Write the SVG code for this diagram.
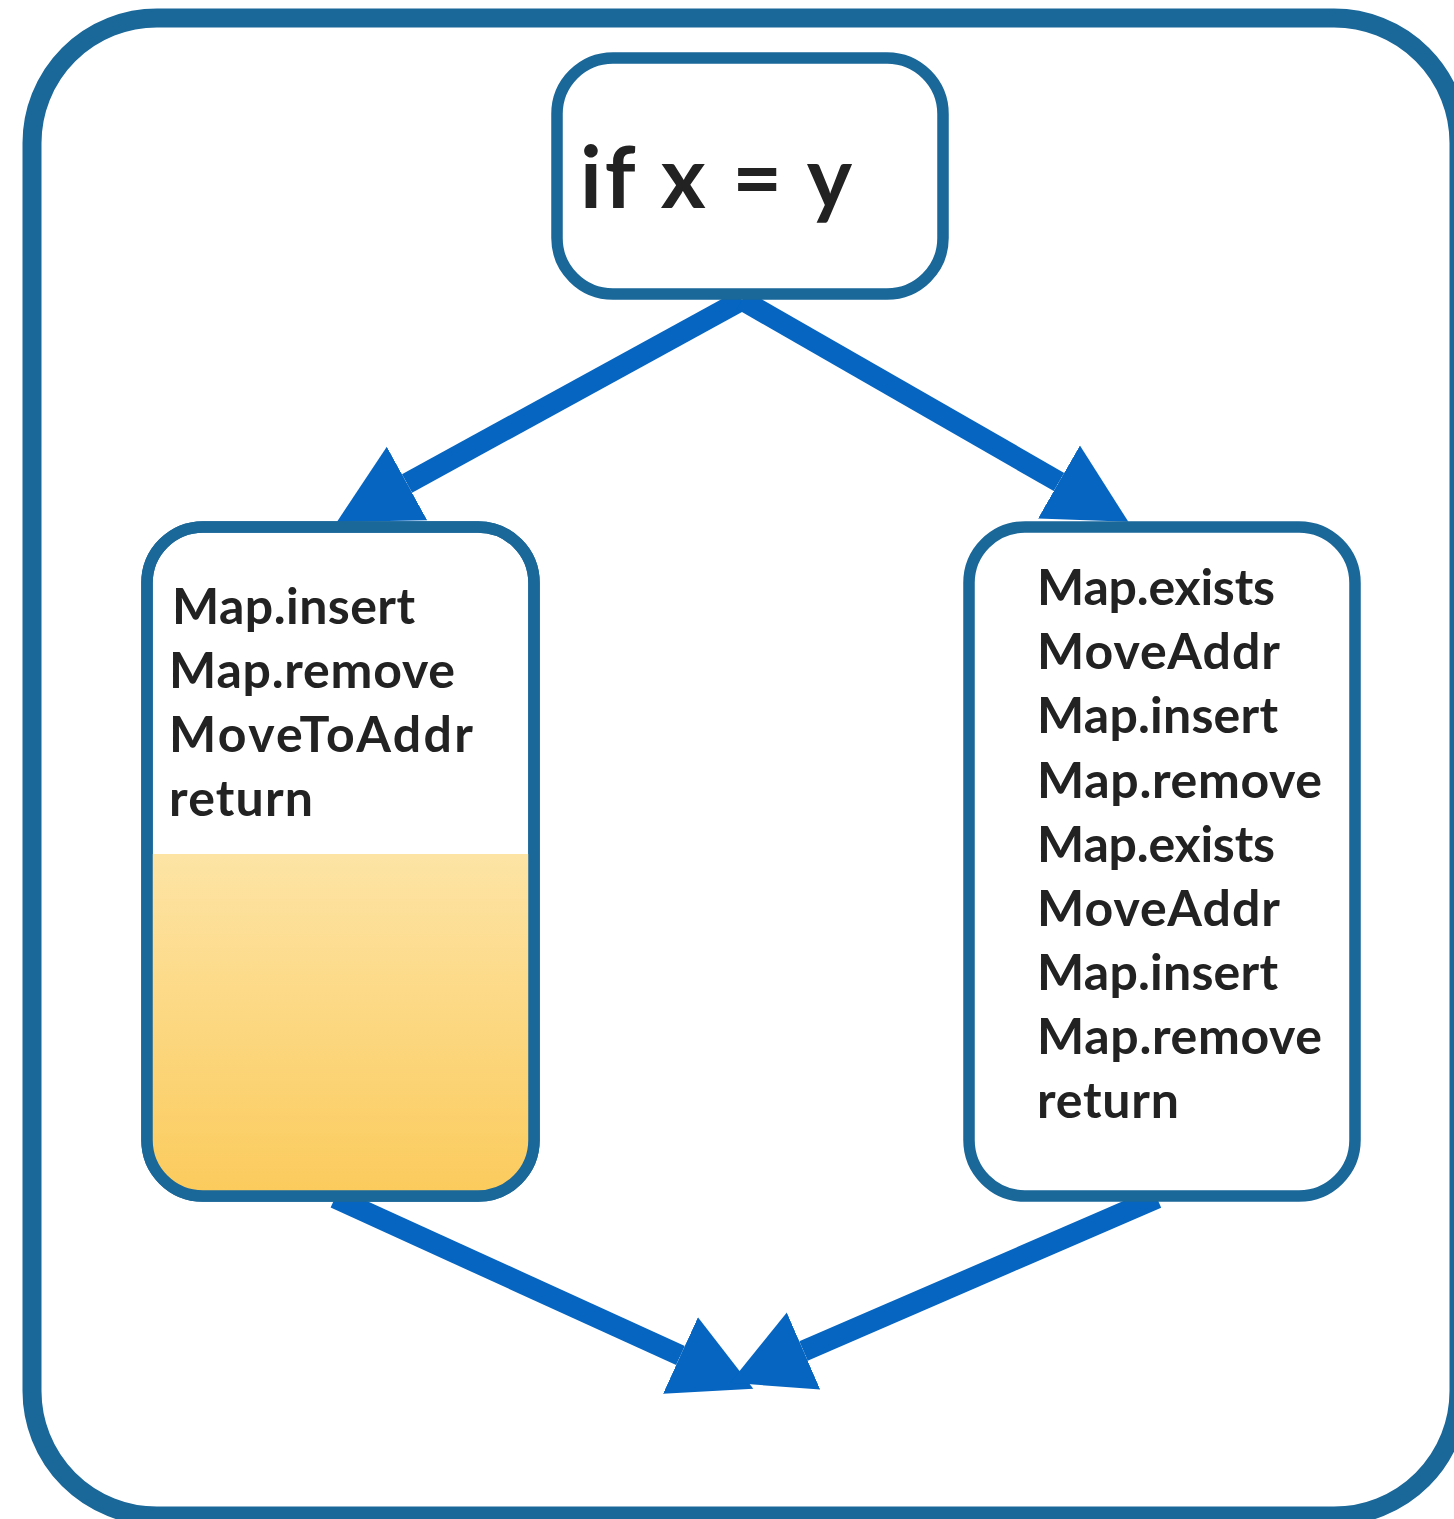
<svg xmlns="http://www.w3.org/2000/svg" width="1454" height="1519" viewBox="0 0 1454 1519">
<style>
.box{fill:#fff;stroke:#1a6799;stroke-width:11.5}
.frame{fill:#fff;stroke:#1a6799;stroke-width:19}
.edge{stroke:#0565c1;stroke-width:21;fill:none}
.t{font-family:Lato,"Open Sans","Liberation Sans",sans-serif;font-weight:700;fill:#222;font-size:50px}
.big{font-size:86px}
</style>
<defs>
<marker id="ah" markerUnits="userSpaceOnUse" markerWidth="90" markerHeight="90" refX="0" refY="42" orient="auto" viewBox="0 0 90 84">
<path d="M0,0 L80,42 L0,84 Z" fill="#0565c1"/>
</marker>
<linearGradient id="g" x1="0" y1="0" x2="0" y2="1">
<stop offset="0" stop-color="#fde4a5"/>
<stop offset="1" stop-color="#fbca5a"/>
</linearGradient>
<clipPath id="lc"><rect x="147" y="527" width="387" height="669" rx="56"/></clipPath>
</defs>
<rect id="frame" class="frame" x="32" y="18" width="1427" height="1498" rx="125"/>
<g id="connectors">
<line class="edge" x1="742" y1="300" x2="407" y2="483.5" marker-end="url(#ah)"/>
<line class="edge" x1="742" y1="300" x2="1059" y2="482" marker-end="url(#ah)"/>
<line class="edge" x1="335" y1="1198" x2="680.5" y2="1355.5" marker-end="url(#ah)"/>
<line class="edge" x1="1157" y1="1198" x2="803.5" y2="1351" marker-end="url(#ah)"/>
</g>
<g id="cond">
<rect class="box" x="557" y="58" width="386" height="236" rx="56"/>
<text class="t big" x="580" y="208" textLength="272">if x = y</text>
</g>
<g id="left">
<rect class="box" x="147" y="527" width="387" height="669" rx="56"/>
<rect x="140" y="854" width="400" height="350" fill="url(#g)" clip-path="url(#lc)"/>
<rect x="147" y="527" width="387" height="669" rx="56" fill="none" stroke="#1a6799" stroke-width="11.5"/>
<text class="t" x="172" y="624" textLength="243">Map.insert</text>
<text class="t" x="169" y="688" textLength="286">Map.remove</text>
<text class="t" x="169" y="752" textLength="304">MoveToAddr</text>
<text class="t" x="169" y="816" textLength="144">return</text>
</g>
<g id="right">
<rect class="box" x="969" y="527" width="386" height="669" rx="56"/>
<text class="t" x="1037" y="605" textLength="238">Map.exists</text>
<text class="t" x="1037" y="669" textLength="243">MoveAddr</text>
<text class="t" x="1037" y="733" textLength="241">Map.insert</text>
<text class="t" x="1037" y="798" textLength="285">Map.remove</text>
<text class="t" x="1037" y="862" textLength="238">Map.exists</text>
<text class="t" x="1037" y="926" textLength="243">MoveAddr</text>
<text class="t" x="1037" y="990" textLength="241">Map.insert</text>
<text class="t" x="1037" y="1054" textLength="285">Map.remove</text>
<text class="t" x="1037" y="1118" textLength="142">return</text>
</g>
</svg>
